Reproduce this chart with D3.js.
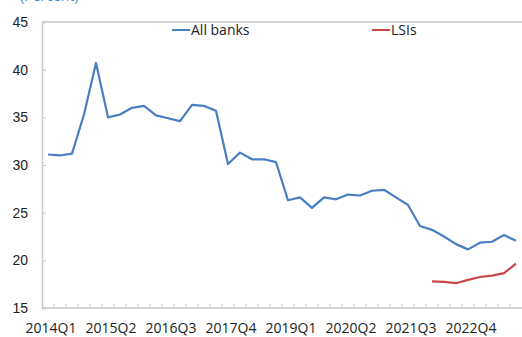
<!DOCTYPE html>
<html>
<head>
<meta charset="utf-8">
<script src="https://cdn.jsdelivr.net/npm/d3@7"></script>
<style>
  body { margin: 0; background: #fff; }
  svg { display: block; font-family: "Open Sans", "Noto Sans", sans-serif; }
</style>
</head>
<body>
<div class="canvas"></div>
<script>
var margin = {t:22, r:0, b:29, l:42};
var W = 522, H = 337;
var width = W - margin.l - margin.r,
    height = H - margin.t - margin.b;

// quarters 2014Q1 .. 2023Q4
var years = d3.range(2014, 2024);
var quarters = [];
years.forEach(function(y){ [1,2,3,4].forEach(function(q){ quarters.push(y + 'Q' + q); }); });

var tickLabels = ['2014Q1','2015Q2','2016Q3','2017Q4','2019Q1','2020Q2','2021Q3','2022Q4'];
var yTicks = [15,20,25,30,35,40,45];

var allBanks = [31.1,31.0,31.2,35.3,40.7,35.0,35.3,36.0,36.2,35.2,
                34.9,34.6,36.3,36.2,35.7,30.1,31.3,30.6,30.6,30.3,
                26.3,26.6,25.5,26.6,26.4,26.9,26.8,27.3,27.4,26.6,
                25.8,23.6,23.2,22.5,21.7,21.15,21.85,21.95,22.65,22.05];
// LSIs from 2022Q1
var lsiStart = '2022Q1';
var lsis = [17.8,17.75,17.6,17.95,18.25,18.4,18.65,19.65];

var series = [
  {name:'All banks', color:'#4a7ec2', values: allBanks.map(function(v,i){ return {q:quarters[i], v:v}; })},
  {name:'LSIs', color:'#c9484a', values: lsis.map(function(v,i){ return {q:quarters[quarters.indexOf(lsiStart)+i], v:v}; })}
];

var svg = d3.select('.canvas').append('svg')
    .attr('width', W).attr('height', H);

var g = svg.append('g')
    .attr('transform','translate('+margin.l+','+margin.t+')');

var x = d3.scaleBand().domain(quarters).range([0, width]);
var y = d3.scaleLinear().domain([15,45]).range([height, 0]);

// top border
g.append('line')
    .attr('x1',0).attr('x2',width).attr('y1',0).attr('y2',0)
    .style('stroke','#c8c8c8').style('stroke-width',1.5);

// y axis
var yAxis = g.append('g')
    .call(d3.axisLeft(y).tickValues(yTicks).tickSize(-4).tickPadding(14));
yAxis.select('.domain').style('stroke','#c8c8c8').style('stroke-width',1.5);
yAxis.selectAll('.tick line').style('stroke','#c8c8c8');
yAxis.selectAll('.tick text').style('font-size','14px').style('fill','#222');
yAxis.selectAll('.tick').filter(function(d){ return d===15 || d===45; }).select('line').remove();

// x axis: ticks at band boundaries, labels every 5 quarters
var xAxis = g.append('g').attr('transform','translate(0,'+height+')');
xAxis.append('line')
    .attr('x1',0).attr('x2',width)
    .style('stroke','#c8c8c8').style('stroke-width',1.5);
xAxis.selectAll('.qtick')
    .data(quarters.slice(1))
    .enter().append('line')
    .attr('class','qtick')
    .attr('x1', function(d){ return x(d); })
    .attr('x2', function(d){ return x(d); })
    .attr('y1', 0).attr('y2', -4)
    .style('stroke','#c8c8c8');
xAxis.selectAll('.qlabel')
    .data(tickLabels)
    .enter().append('text')
    .attr('class','qlabel')
    .attr('x', function(d){ return x(d) + x.bandwidth()/2 + 3; })
    .attr('y', 25)
    .attr('text-anchor','middle')
    .style('font-size','14px')
    .style('fill','#222')
    .text(function(d){ return d; });

// lines
var line = d3.line()
    .x(function(d){ return x(d.q) + x.bandwidth()/2; })
    .y(function(d){ return y(d.v); });

g.selectAll('.series')
    .data(series)
    .enter().append('path')
    .attr('class','series')
    .attr('d', function(d){ return line(d.values); })
    .style('fill','none')
    .style('stroke', function(d){ return d.color; })
    .style('stroke-width', 2.2)
    .style('stroke-linejoin','round');

// legend
var legendX = [172, 372];
var legend = svg.selectAll('.legend')
    .data(series)
    .enter().append('g')
    .attr('class','legend')
    .attr('transform', function(d,i){ return 'translate('+legendX[i]+',30)'; });
legend.append('line')
    .attr('x1',0).attr('x2',18)
    .style('stroke', function(d){ return d.color; })
    .style('stroke-width',2);
legend.append('text')
    .attr('x',19).attr('y',5)
    .style('font-size','14px')
    .style('fill','#222')
    .text(function(d){ return d.name; });

// unit label, cut at top
svg.append('text')
    .attr('x',20).attr('y',1)
    .style('font-size','14px')
    .style('fill','#4a8ac9')
    .text('(Percent)');
</script>
</body>
</html>
